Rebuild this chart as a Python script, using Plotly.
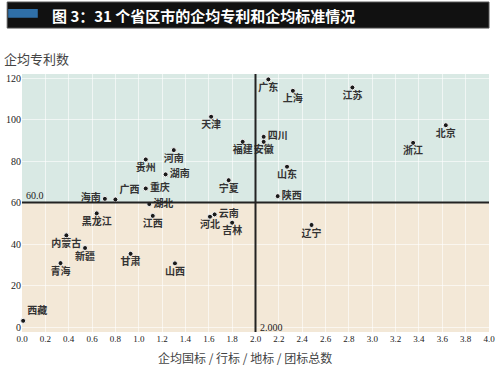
import plotly.graph_objects as go

provinces = ["天津", "福建", "河南", "贵州", "湖南", "宁夏", "重庆", "海南", "广西", "湖北",
             "广东", "上海", "江苏", "北京", "浙江", "四川", "安徽", "山东", "陕西",
             "黑龙江", "江西", "河北", "云南", "吉林", "内蒙古", "新疆", "甘肃", "青海", "山西", "西藏",
             "辽宁"]
standards = [1.62, 1.89, 1.30, 1.06, 1.23, 1.77, 1.06, 0.71, 0.80, 1.09,
             2.11, 2.32, 2.83, 3.63, 3.35, 2.07, 2.07, 2.27, 2.19,
             0.64, 1.12, 1.61, 1.65, 1.80, 0.38, 0.54, 0.93, 0.33, 1.31, 0.01,
             2.48]
patents = [101.4, 89.3, 85.3, 80.8, 73.6, 70.8, 66.8, 61.8, 61.5, 59.3,
           119.4, 113.9, 115.5, 97.3, 88.8, 91.7, 89.3, 77.3, 63.1,
           54.8, 53.6, 53.2, 54.3, 50.3, 44.2, 38.1, 35.3, 30.8, 30.7, 3.0,
           49.2]
label_pos = ["bottom center", "bottom center", "bottom center", "bottom center", "middle right",
             "bottom center", "middle right", "middle left", "top right", "middle right",
             "bottom center", "bottom center", "bottom center", "bottom center", "bottom center",
             "middle right", "bottom center", "bottom center", "middle right",
             "bottom center", "bottom center", "bottom center", "middle right", "bottom center",
             "bottom center", "bottom center", "bottom center", "bottom center", "bottom center", "top right",
             "bottom center"]
x_ticks = [0.0, 0.2, 0.4, 0.6, 0.8, 1.0, 1.2, 1.4, 1.6, 1.8, 2.0, 2.2, 2.4, 2.6, 2.8, 3.0, 3.2, 3.4, 3.6, 3.8, 4.0]
y_ticks = [0, 20, 40, 60, 80, 100, 120]
x_mid = 2.0
y_mid = 60.0
x_range = [0, 4.0]
y_range = [-2.4, 122]

title_text = "图 3：31 个省区市的企均专利和企均标准情况"
y_title = "企均专利数"
x_title = "企均国标 / 行标 / 地标 / 团标总数"

serif = "Liberation Serif, DejaVu Serif, serif"
cjk = "Noto Sans CJK SC"

fig = go.Figure()
fig.add_trace(go.Scatter(
    x=standards, y=patents, mode="markers+text", text=provinces, textposition=label_pos,
    marker=dict(size=5, color="#1a1a1a", line=dict(color="#f5f5f5", width=1)),
    textfont=dict(family=cjk, size=10, color="#333333", weight="bold"),
    cliponaxis=False, hoverinfo="skip", showlegend=False,
))

shapes = [
    dict(type="rect", xref="x", yref="y", x0=x_range[0], x1=x_range[1], y0=y_mid, y1=y_range[1],
         fillcolor="#d9e9e4", line=dict(width=0), layer="below"),
    dict(type="rect", xref="x", yref="y", x0=x_range[0], x1=x_range[1], y0=y_range[0], y1=y_mid,
         fillcolor="#f3e8d7", line=dict(width=0), layer="below"),
    dict(type="line", xref="x", yref="y", x0=x_range[0], x1=x_range[1], y0=y_mid, y1=y_mid,
         line=dict(color="#222222", width=2)),
    dict(type="line", xref="x", yref="y", x0=x_mid, x1=x_mid, y0=y_range[0], y1=y_range[1],
         line=dict(color="#222222", width=2)),
    # title bar
    dict(type="rect", xref="paper", yref="paper", x0=-0.0317, x1=1.0, y0=1.178, y1=1.279,
         fillcolor="#111111", line=dict(color="#555555", width=1)),
    dict(type="rect", xref="paper", yref="paper", x0=-0.0296, x1=0.0338, y0=1.218, y1=1.252,
         fillcolor="#2f6fa8", line=dict(width=0)),
]

annotations = [
    dict(text=title_text, xref="paper", yref="paper", x=0.059, y=1.2285, xanchor="left", yanchor="middle",
         showarrow=False, font=dict(family=cjk, size=15, color="white", weight="bold")),
    dict(text=y_title, xref="paper", yref="paper", x=-0.042, y=1.062, xanchor="left", yanchor="middle",
         showarrow=False, font=dict(family=cjk, size=13, color="#444444")),
    dict(text=x_title, xref="paper", yref="paper", x=0.478, y=-0.1, xanchor="center", yanchor="middle",
         showarrow=False, font=dict(family=cjk, size=12, color="#444444")),
    dict(text="60.0", xref="x", yref="y", x=0.02, y=y_mid, xanchor="left", yanchor="bottom",
         showarrow=False, font=dict(family=serif, size=10, color="#222222")),
    dict(text="2.000", xref="x", yref="y", x=x_mid + 0.02, y=0, xanchor="left", yanchor="middle",
         showarrow=False, font=dict(family=serif, size=10, color="#222222")),
]

fig.update_layout(
    width=500, height=375,
    margin=dict(l=22, r=5, t=74, b=43),
    paper_bgcolor="white", plot_bgcolor="white",
    shapes=shapes, annotations=annotations,
    xaxis=dict(range=x_range, tickvals=x_ticks, ticktext=[f"{v:.1f}" for v in x_ticks],
               showgrid=True, gridcolor="rgba(255,255,255,0.6)", gridwidth=1, zeroline=False,
               showline=False, ticks="", ticklabeloverflow="allow",
               tickfont=dict(family=serif, size=9, color="#222222")),
    yaxis=dict(range=y_range, tickvals=y_ticks, showgrid=True, gridcolor="rgba(255,255,255,0.6)",
               gridwidth=1, zeroline=False, showline=False, ticks="",
               tickfont=dict(family=serif, size=10, color="#222222")),
)

fig.write_html("out.html", config={"displayModeBar": False},
               post_script="document.body.style.margin='0';")
